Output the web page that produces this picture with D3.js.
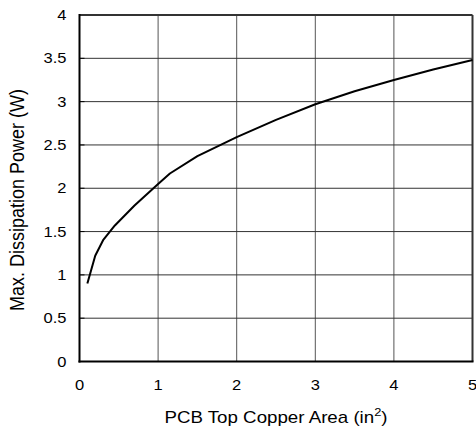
<!DOCTYPE html>
<html><head><meta charset="utf-8">
<script src="https://cdn.jsdelivr.net/npm/d3@7"></script>
<style>body{margin:0;background:#fff}</style>
</head><body><svg id="c" width="476" height="430"></svg>
<script>
const xTicks = [0, 1, 2, 3, 4, 5];
const yTicks = [0, 0.5, 1, 1.5, 2, 2.5, 3, 3.5, 4];
const xLabels = ["0", "1", "2", "3", "4", "5"];
const yLabels = ["0", "0.5", "1", "1.5", "2", "2.5", "3", "3.5", "4"];
const area  = [0.1, 0.2, 0.3, 0.45, 0.7, 1, 1.15, 1.5, 2, 2.5, 3, 3.5, 4, 4.5, 5];
const power = [0.9, 1.22, 1.4, 1.57, 1.8, 2.05, 2.17, 2.37, 2.59, 2.79, 2.97, 3.12, 3.25, 3.37, 3.48];

const svg = d3.select("#c");
const L = 79.5, R = 472.5, T = 15, B = 361.5;
const x = d3.scaleLinear().domain([0, 5]).range([L, R]);
const y = d3.scaleLinear().domain([0, 4]).range([B, T]);
const font = "Liberation Sans, Arial, Helvetica, sans-serif";
const SX = 1.18;

// grid
svg.append("g").selectAll("line").data(xTicks.slice(1, -1)).join("line")
  .attr("x1", d => x(d)).attr("x2", d => x(d)).attr("y1", T).attr("y2", B)
  .attr("stroke", "#555").attr("stroke-width", 1);
svg.append("g").selectAll("line").data(yTicks.slice(1, -1)).join("line")
  .attr("y1", d => y(d)).attr("y2", d => y(d)).attr("x1", L).attr("x2", R)
  .attr("stroke", "#333").attr("stroke-width", 1);

// inward ticks on left axis
svg.append("g").selectAll("line").data(yTicks).join("line")
  .attr("y1", d => y(d)).attr("y2", d => y(d)).attr("x1", L).attr("x2", L + 5)
  .attr("stroke", "#000").attr("stroke-width", 1);

// frame
svg.append("line").attr("x1", L).attr("x2", R).attr("y1", T).attr("y2", T).attr("stroke", "#333").attr("stroke-width", 2);
svg.append("line").attr("x1", R).attr("x2", R).attr("y1", T).attr("y2", B).attr("stroke", "#333").attr("stroke-width", 2);
svg.append("line").attr("x1", L).attr("x2", L).attr("y1", T - 1).attr("y2", B + 1).attr("stroke", "#000").attr("stroke-width", 2);
svg.append("line").attr("x1", L - 1).attr("x2", R + 1).attr("y1", B).attr("y2", B).attr("stroke", "#000").attr("stroke-width", 2);

// curve
const pts = area.map((a, i) => [a, power[i]]);
svg.append("path").datum(pts)
  .attr("d", d3.line().x(d => x(d[0])).y(d => y(d[1])))
  .attr("fill", "none").attr("stroke", "#000").attr("stroke-width", 2)
  .attr("stroke-linejoin", "round");

// tick labels
svg.append("g").selectAll("text").data(yTicks).join("text")
  .attr("transform", d => `translate(66.5,${y(d)}) scale(${SX},1)`)
  .attr("text-anchor", "end").attr("dy", "0.36em")
  .attr("font-family", font).attr("font-size", 14).attr("fill", "#000")
  .text((d, i) => yLabels[i]);
svg.append("g").selectAll("text").data(xTicks).join("text")
  .attr("transform", d => `translate(${x(d)},390) scale(${SX},1)`)
  .attr("text-anchor", "middle")
  .attr("font-family", font).attr("font-size", 14).attr("fill", "#000")
  .text((d, i) => xLabels[i]);

// x title
const xt = svg.append("text")
  .attr("transform", `translate(${(L + R) / 2},423) scale(1.17,1)`)
  .attr("text-anchor", "middle")
  .attr("font-family", font).attr("font-size", 16).attr("fill", "#000");
xt.append("tspan").text("PCB Top Copper Area (in");
xt.append("tspan").attr("font-size", 11).attr("dy", -7).text("2");
xt.append("tspan").attr("dy", 7).text(")");

// y title
svg.append("text")
  .attr("transform", `translate(24,200) scale(1.15,1) rotate(-90)`)
  .attr("text-anchor", "middle")
  .attr("font-family", font).attr("font-size", 18).attr("fill", "#000")
  .text("Max. Dissipation Power (W)");
</script></body></html>
